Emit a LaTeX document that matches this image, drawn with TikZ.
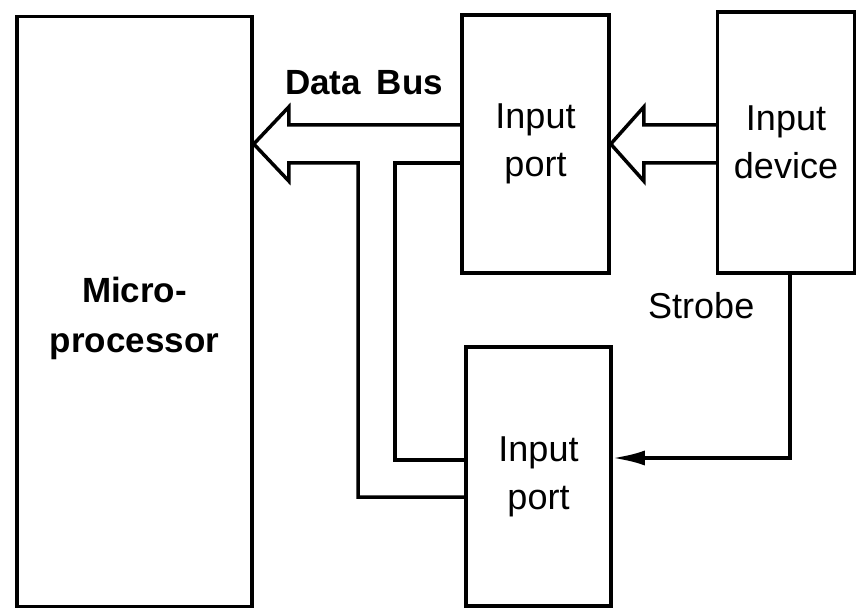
\documentclass[tikz,border=0pt]{standalone}
\usepackage{fontspec}
\setmainfont{Liberation Sans}
\usetikzlibrary{positioning,arrows.meta,calc}

\begin{document}
\begin{tikzpicture}[x=1pt, y=-1pt,
  blk/.style={draw, line width=3.5pt, inner sep=0pt, align=center,
    font=\fontsize{36}{48}\selectfont},
  bold/.style={font=\fontsize{35}{50}\selectfont\bfseries},
  bus/.style={line width=3.5pt, line join=miter},
  sig/.style={line width=3.5pt, -{Latex[length=32pt,width=15pt]}},
  lbl/.style={inner sep=0pt, font=\fontsize{36}{48}\selectfont}]
\useasboundingbox (0,0) rectangle (858,609);
% blocks
\node[blk, bold, minimum width=235pt, minimum height=590pt] (micro) at (134.5,311.5) {\rule{0pt}{40pt}Micro-\\processor};
\node[blk, minimum width=147pt, minimum height=258pt] (port1) at (535.5,144) {Input\\port};
\node[blk, minimum width=137pt, minimum height=261pt] (dev) at (786,142.5) {Input\\device};
\node[blk, minimum width=145pt, minimum height=259pt] (port2) at (538.5,476.5) {Input\\port};
% labels
\node[lbl, bold, anchor=base west] (dbus) at (285,95) {Data\hspace{0.45em}Bus};
\node[lbl, anchor=base west] (strb) at (648,318) {Strobe};
% data bus
\draw[bus] ($(port1.west)+(0,-19)$) -- ($(micro.east |- port1.west)+(35,-19)$) -- ++(0,-18)
  -- (micro.east |- port1.west) -- ++(35,37) -- ++(0,-18) -- (358,163)
  |- ($(port2.west)+(0,20.5)$);
\draw[bus] ($(port1.west)+(0,19)$) -- (395,163) |- ($(port2.west)+(0,-16.5)$);
% device to port
\draw[bus] ($(dev.west |- port1.east)+(0,-19)$) -- ($(port1.east)+(33,-19)$) -- ++(0,-18)
  -- (port1.east) -- ++(33,37) -- ++(0,-18) -- ($(dev.west |- port1.east)+(0,19)$);
% strobe
\draw[sig] ($(dev.south)+(4,0)$) |- ($(port2.east)+(0,-18.5)$);
\end{tikzpicture}
\end{document}
